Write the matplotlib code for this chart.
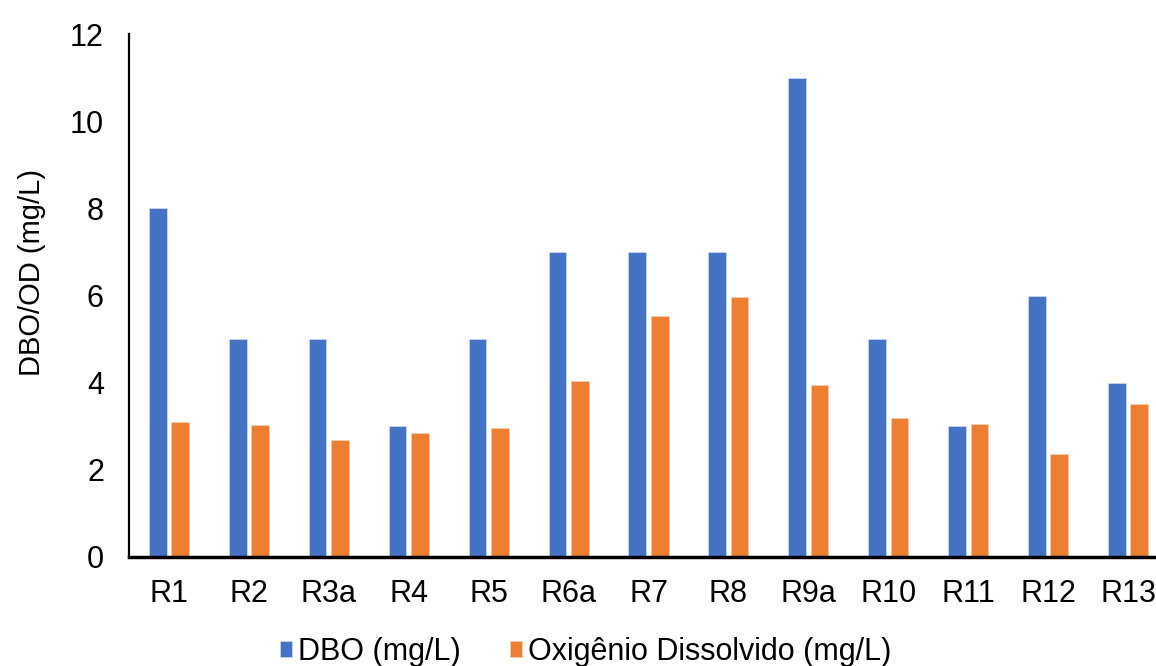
import numpy as np
import matplotlib.pyplot as plt

plt.rcParams['font.family'] = ['Liberation Sans', 'DejaVu Sans']

pontos = ["R1", "R2", "R3a", "R4", "R5", "R6a", "R7", "R8", "R9a", "R10", "R11", "R12", "R13"]
dbo = [8, 5, 5, 3, 5, 7, 7, 7, 11, 5, 3, 6, 4]
od = [3.10, 3.02, 2.69, 2.84, 2.95, 4.03, 5.52, 5.97, 3.95, 3.18, 3.06, 2.36, 3.51]

x = np.arange(len(pontos))
w = 0.222
off = 0.14

fig = plt.figure(figsize=(11.56, 6.66), dpi=100)
# eixo vai um pouco além da borda direita, como no original (cortado)
ax = fig.add_axes([129/1156, (666-557)/666, 1039/1156, (557-34)/666])

ax.bar(x - off, dbo, w, color='#4472C4', edgecolor='#c9d6f0', linewidth=0.6, label='DBO (mg/L)')
ax.bar(x + off, od, w, color='#ED7D31', edgecolor='#f7cdb0', linewidth=0.6, label='Oxigênio Dissolvido (mg/L)')

ax.set_xlim(-0.5, 12.5)
ax.set_ylim(0, 12)
ax.set_yticks(range(0, 13, 2))
ax.set_xticks(x)
ax.set_xticklabels(pontos)
ax.tick_params(axis='both', length=0, labelsize=22)
ax.tick_params(axis='x', pad=16)
ax.tick_params(axis='y', pad=18)

ax.spines['top'].set_visible(False)
ax.spines['right'].set_visible(False)
ax.spines['left'].set_linewidth(1.6)
ax.spines['bottom'].set_linewidth(2.5)

ax.set_ylabel('DBO/OD (mg/L)', fontsize=21)
ax.yaxis.set_label_coords(46/1156, 1 - 272/666, transform=fig.transFigure)

fig.legend(loc='center', bbox_to_anchor=(586/1156, 1 - 652/666), ncol=2, frameon=False,
           fontsize=22, handlelength=0.4, handleheight=0.4, handletextpad=0.2, columnspacing=1.6)

plt.savefig('out.png', dpi=100)
